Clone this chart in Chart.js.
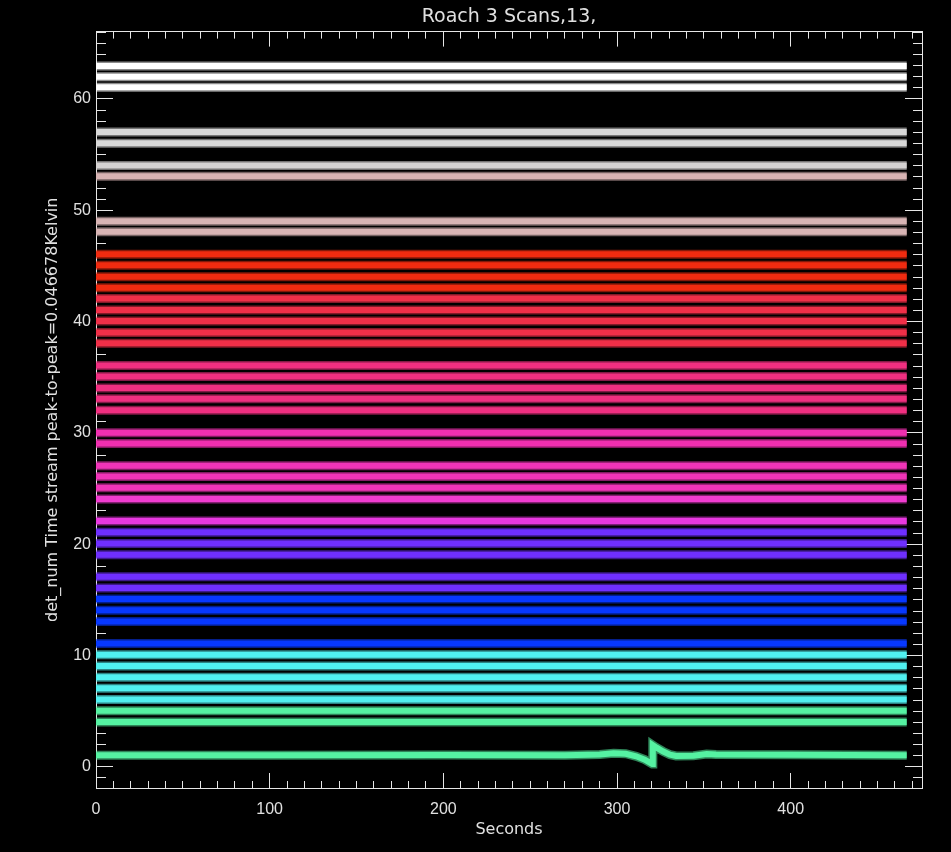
<!DOCTYPE html>
<html>
<head>
<meta charset="utf-8">
<script src="https://cdn.jsdelivr.net/npm/chart.js@4/dist/chart.umd.min.js"></script>
<style>
  html, body { margin: 0; padding: 0; background: #000; }
  #wrap { width: 951px; height: 852px; }
  canvas { display: block; }
</style>
</head>
<body>
<div id="wrap"><canvas id="c" width="951" height="852"></canvas></div>
<script>
// ---------------- DATA ----------------
const chartTitle = 'Roach 3 Scans,13,';
const xTitle = 'Seconds';
const yTitle = 'det_num Time stream peak-to-peak=0.046678Kelvin';

// detector numbers that have a plotted time stream (each stream is offset by its det_num)
const detNums = [4, 5, 6, 7, 8, 9, 10, 11, 13, 14, 15, 16, 17, 19, 20, 21, 22,
                 24, 25, 26, 27, 29, 30, 32, 33, 34, 35, 36, 38, 39, 40, 41, 42,
                 43, 44, 45, 46, 48, 49, 53, 54, 56, 57, 61, 62, 63];
// mean level of each stream (same order as detNums)
const detLevels = [4.03, 5.05, 6.05, 7.05, 8.05, 9.07, 10.07, 11.08, 13.05, 14.07, 15.07, 16.07, 17.07, 19.05, 20.06, 21.08, 22.08,
                   24.07, 25.07, 26.08, 27.06, 29.05, 30.02, 32.04, 33.07, 34.03, 35.07, 36.05, 38.05, 39.02, 40.05, 41.05, 42.08,
                   43.05, 44.03, 45.05, 46.05, 48.06, 49.02, 53.05, 54.02, 56.03, 57.02, 61.05, 62.0, 62.95];
const streamStart = 0;      // seconds
const streamEnd = 466.8;    // seconds

// detector 1 shows a glitch near 320 s
const det1Time = [0, 100, 200, 270, 290, 298, 305, 311, 316, 320.3, 320.6, 322.8, 326.6, 330.5, 334, 344, 351.6, 357, 400, 466.8];
const det1Vals = [1.05, 1.05, 1.06, 1.05, 1.12, 1.22, 1.18, 0.95, 0.65, 0.25, 1.95, 1.72, 1.38, 1.1, 0.98, 0.99, 1.15, 1.1, 1.08, 1.05];

const xRange = [0, 475.6];
const yRange = [-1.9, 66.05];
const xMajorStep = 100, xMinorStep = 10;
const yMajorStep = 10, yMinorStep = 1;

// ---------------- STYLE ----------------
function traceColor(d) {
  if (d <= 5) return [85, 242, 162];
  if (d <= 10) return [80, 240, 240];
  if (d <= 15) return [8, 56, 255];
  if (d <= 21) return [112, 48, 255];
  if (d === 22) return [232, 56, 224];
  if (d === 24) return [240, 60, 208];
  if (d <= 27) return [240, 52, 184];
  if (d <= 30) return [240, 48, 176];
  if (d <= 36) return [240, 48, 128];
  if (d <= 42) return [240, 48, 72];
  if (d <= 46) return [240, 44, 16];
  if (d === 54) return [214, 210, 210];
  if (d <= 53) return [216, 180, 180];
  if (d <= 57) return [216, 216, 216];
  return [255, 255, 255];
}
const rgba = (c, a) => `rgba(${c[0]},${c[1]},${c[2]},${a})`;
const axisColor = '#e6e6e6';
const textColor = '#e0e0e0';
const tickFont = { family: 'Liberation Sans', size: 16 };
const titleFont = { family: 'DejaVu Sans', size: 16 };

// ---------------- BUILD DATASETS ----------------
const streams = [];
streams.push({ det: 1, points: det1Time.map((t, i) => ({ x: t, y: det1Vals[i] })) });
detNums.forEach((d, i) => {
  streams.push({ det: d, points: [{ x: streamStart, y: detLevels[i] }, { x: streamEnd, y: detLevels[i] }] });
});

const halos = streams.map(s => ({
  data: s.points, borderColor: rgba(traceColor(s.det), 0.55), borderWidth: 9,
  pointRadius: 0, tension: 0, fill: false, borderCapStyle: 'butt', borderJoinStyle: 'miter'
}));
const cores = streams.map(s => ({
  data: s.points, borderColor: rgba(traceColor(s.det), 1), borderWidth: 6,
  pointRadius: 0, tension: 0, fill: false, borderCapStyle: 'butt', borderJoinStyle: 'miter'
}));

function tickAxis(pos, range, step, len, extra) {
  return Object.assign({
    type: 'linear', position: pos, min: range[0], max: range[1],
    ticks: { display: false, stepSize: step, includeBounds: false },
    grid: { display: true, drawOnChartArea: false, drawTicks: true, tickLength: -len, color: axisColor, lineWidth: 1 },
    border: { display: true, color: axisColor, width: 1 }
  }, extra);
}

new Chart(document.getElementById('c'), {
  type: 'line',
  data: { datasets: halos.concat(cores) },
  options: {
    responsive: false,
    animation: false,
    devicePixelRatio: 1,
    parsing: false,
    layout: { padding: 0 },
    plugins: {
      legend: { display: false },
      tooltip: { enabled: false },
      title: {
        display: true, text: chartTitle, color: textColor, fullSize: false,
        font: { family: 'DejaVu Sans', size: 19, weight: 'normal' },
        padding: { top: 3, bottom: 3.2 }
      }
    },
    scales: {
      x: Object.assign(tickAxis('bottom', xRange, xMajorStep, 15, { weight: 1 }), {
        ticks: { display: true, stepSize: xMajorStep, includeBounds: false, color: textColor, font: tickFont,
                 padding: 27, maxRotation: 0, autoSkip: false, callback: v => String(v) },
        title: { display: true, text: xTitle, color: textColor, font: titleFont, padding: { top: 0, bottom: 13 } },
        afterFit: s => { s.height = 64; }
      }),
      xMin: Object.assign(tickAxis('bottom', xRange, xMinorStep, 7, { weight: 0 }), { afterFit: s => { s.height = 0; } }),
      xTop: Object.assign(tickAxis('top', xRange, xMajorStep, 15, { weight: 0 }), { afterFit: s => { s.height = 0; } }),
      xTopMin: Object.assign(tickAxis('top', xRange, xMinorStep, 7, { weight: 0 }), { afterFit: s => { s.height = 0; } }),
      y: Object.assign(tickAxis('left', yRange, yMajorStep, 17, { weight: 1 }), {
        ticks: { display: true, stepSize: yMajorStep, includeBounds: false, color: textColor, font: tickFont,
                 padding: 22, autoSkip: false, callback: v => String(v) },
        title: { display: true, text: yTitle, color: textColor, font: titleFont, padding: { top: 43, bottom: 0 } },
        afterFit: s => { s.width = 96; }
      }),
      yMin: Object.assign(tickAxis('left', yRange, yMinorStep, 10, { weight: 0 }), { afterFit: s => { s.width = 0; } }),
      yR: Object.assign(tickAxis('right', yRange, yMajorStep, 17, { weight: 1 }), { afterFit: s => { s.width = 29; } }),
      yRMin: Object.assign(tickAxis('right', yRange, yMinorStep, 9, { weight: 0 }), { afterFit: s => { s.width = 0; } })
    }
  }
});
</script>
</body>
</html>
